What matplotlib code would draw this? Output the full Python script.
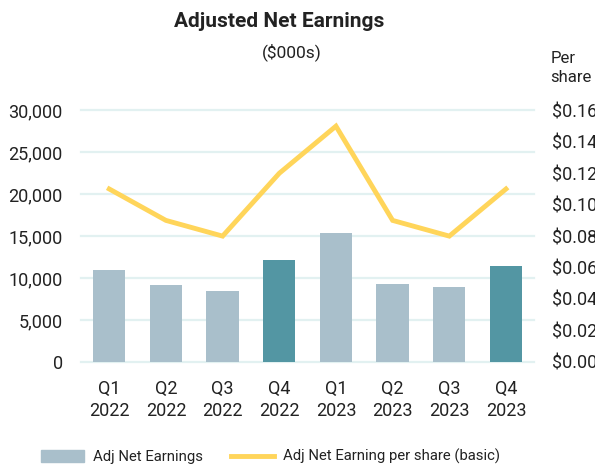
import numpy as np
import matplotlib
matplotlib.use("Agg")
import matplotlib.pyplot as plt
from matplotlib.patches import Patch
from matplotlib.lines import Line2D

plt.rcParams['font.family'] = ['Roboto', 'DejaVu Sans']

# data
quarters = ["Q1\n2022", "Q2\n2022", "Q3\n2022", "Q4\n2022",
            "Q1\n2023", "Q2\n2023", "Q3\n2023", "Q4\n2023"]
earnings = [11000, 9200, 8500, 12200, 15400, 9300, 8900, 11400]
per_share = [0.11, 0.09, 0.08, 0.12, 0.15, 0.09, 0.08, 0.11]
left_ticks = [0, 5000, 10000, 15000, 20000, 25000, 30000]
right_ticks = [0, 0.02, 0.04, 0.06, 0.08, 0.10, 0.12, 0.14, 0.16]

light = "#A9BFCB"
dark = "#5396A3"
yellow = "#FFD55A"
grid_c = "#E2F1F1"
text_c = "#222222"

bar_colors = [dark if q.startswith("Q4") else light for q in quarters]

fig = plt.figure(figsize=(5.95, 4.68), dpi=100)
ax = fig.add_axes([0.136, 0.227, 0.762, 0.537])
x = np.arange(len(quarters))

ax.bar(x, earnings, width=0.57, color=bar_colors, zorder=2)
ax.set_ylim(0, 30000)
ax.set_xlim(-0.5, 7.5)
ax.set_yticks(left_ticks)
ax.set_yticklabels([f"{v:,}" for v in left_ticks])
for v in left_ticks:
    ax.axhline(v, color=grid_c, lw=1.6, zorder=1, clip_on=False)
ax.set_xticks(x)
ax.set_xticklabels(quarters, linespacing=1.3)
ax.tick_params(axis='both', length=0, labelsize=13, colors=text_c)
ax.tick_params(axis='y', pad=13)
ax.tick_params(axis='x', pad=13)
for s in ax.spines.values():
    s.set_visible(False)

ax2 = ax.twinx()
ax2.plot(x, per_share, color=yellow, lw=3.5, zorder=3, solid_joinstyle='miter')
ax2.set_ylim(0, 0.16)
ax2.set_yticks(right_ticks)
ax2.set_yticklabels([f"${v:.2f}" for v in right_ticks])
ax2.tick_params(axis='y', length=0, labelsize=13, colors=text_c, pad=13)
for s in ax2.spines.values():
    s.set_visible(False)

fig.text(0.47, 0.953, "Adjusted Net Earnings", ha='center', va='center',
         fontsize=15, fontweight='bold', color=text_c)
fig.text(0.49, 0.889, "($000s)", ha='center', va='center', fontsize=12.5, color=text_c)
fig.text(0.925, 0.855, "Per\nshare", ha='left', va='center', fontsize=12,
         color=text_c, linespacing=1.35)

handles = [Patch(color=light, label="Adj Net Earnings"),
           Line2D([0], [0], color=yellow, lw=3.5, label="Adj Net Earning per share (basic)")]
fig.legend(handles=handles, loc='center', bbox_to_anchor=(0.455, 0.024), ncol=2,
           frameon=False, fontsize=10.7, handlelength=2.9, handleheight=0.8,
           handletextpad=0.6, columnspacing=1.9, labelcolor=text_c)

fig.savefig("out.png", dpi=100)
